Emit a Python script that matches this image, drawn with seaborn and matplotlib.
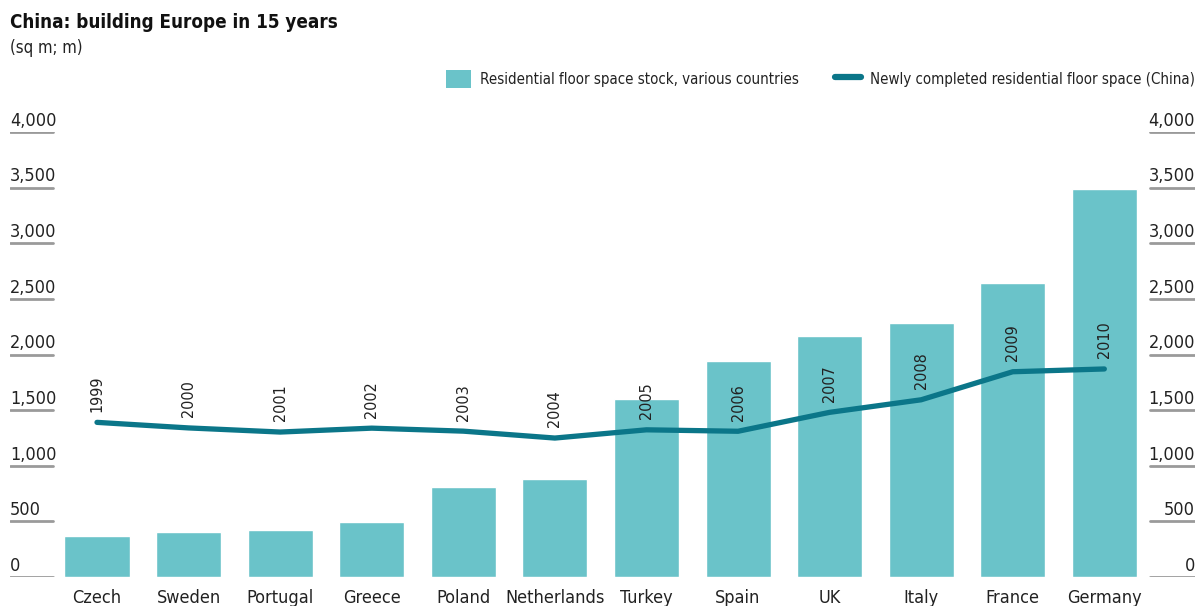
import seaborn as sns
from matplotlib import pyplot as plt
from matplotlib.lines import Line2D
from matplotlib.patches import Patch
import pandas as pd
import numpy as np

# residential floor space stock by country (sq m, m)
countries = ['Czech', 'Sweden', 'Portugal', 'Greece', 'Poland', 'Netherlands',
             'Turkey', 'Spain', 'UK', 'Italy', 'France', 'Germany']
stock = [365, 405, 420, 495, 805, 878, 1598, 1941, 2163, 2280, 2640, 3485]

# newly completed residential floor space in China, per year (sq m, m)
years = ['1999', '2000', '2001', '2002', '2003', '2004',
         '2005', '2006', '2007', '2008', '2009', '2010']
china_new = [1390, 1340, 1303, 1338, 1311, 1249,
             1323, 1310, 1480, 1593, 1845, 1870]

yticks = [0, 500, 1000, 1500, 2000, 2500, 3000, 3500, 4000]

bar_color = '#6ac3c9'
line_color = '#0b7689'
text_color = '#222222'

sns.set_style('white')
plt.rcParams['font.family'] = ['DejaVu Sans']
plt.rcParams['font.stretch'] = 'condensed'

df = pd.DataFrame({'country': countries, 'stock': stock,
                   'pos': np.arange(len(countries)), 'new': china_new})

fig = plt.figure(figsize=(12.04, 6.06), dpi=100)
ax = fig.add_axes([10 / 1204, 29 / 606, 1185 / 1204, 445 / 606])

sns.barplot(data=df, x='country', y='stock', color=bar_color, width=0.71,
            saturation=1, ax=ax, zorder=2)
sns.lineplot(data=df, x='pos', y='new', color=line_color, linewidth=3.8,
             ax=ax, zorder=3)

for i, (yr, v) in enumerate(zip(years, china_new)):
    ax.text(i, v + 95, yr, rotation=90, ha='center', va='bottom',
            fontsize=11.5, color=text_color, zorder=4)

ax.set_xlim(-0.95, 11.99)
ax.set_ylim(0, 4000)
for s in ax.spines.values():
    s.set_visible(False)
ax.set_xticks([])
ax.set_yticks([])
ax.set_xlabel('')
ax.set_ylabel('')

# short gridline stubs and labels on both sides
for t in yticks:
    ax.axhline(t, xmin=0, xmax=0.036, color='#9a9a9a', lw=2, zorder=1)
    ax.axhline(t, xmin=0.962, xmax=1, color='#9a9a9a', lw=2, zorder=1)
    ax.text(0, t + 20, f'{t:,}', transform=ax.get_yaxis_transform(),
            ha='left', va='bottom', fontsize=13, color=text_color)
    ax.text(1, t + 20, f'{t:,}', transform=ax.get_yaxis_transform(),
            ha='right', va='bottom', fontsize=13, color=text_color)

for i, c in enumerate(countries):
    ax.text(i, -110, c, ha='center', va='top', fontsize=13,
            color=text_color, clip_on=False)

fig.text(10 / 1204, 1 - 22 / 606, 'China: building Europe in 15 years',
         fontsize=13.5, fontweight='bold', va='center', ha='left', color='#111111')
fig.text(10 / 1204, 1 - 48 / 606, '(sq m; m)', fontsize=12,
         va='center', ha='left', color=text_color)

handles = [Patch(facecolor=bar_color, edgecolor='none'),
           Line2D([0], [0], color=line_color, lw=4.5, solid_capstyle='round')]
labels = ['Residential floor space stock, various countries',
          'Newly completed residential floor space (China)']
fig.legend(handles, labels, loc='center right',
           bbox_to_anchor=(1 + 4 / 1204, 1 - 79 / 606), ncol=2, frameon=False,
           fontsize=10.8, handlelength=1.7, handleheight=1.5, columnspacing=2.4,
           handletextpad=0.6, labelcolor=text_color)

fig.savefig('out.png', dpi=100)
